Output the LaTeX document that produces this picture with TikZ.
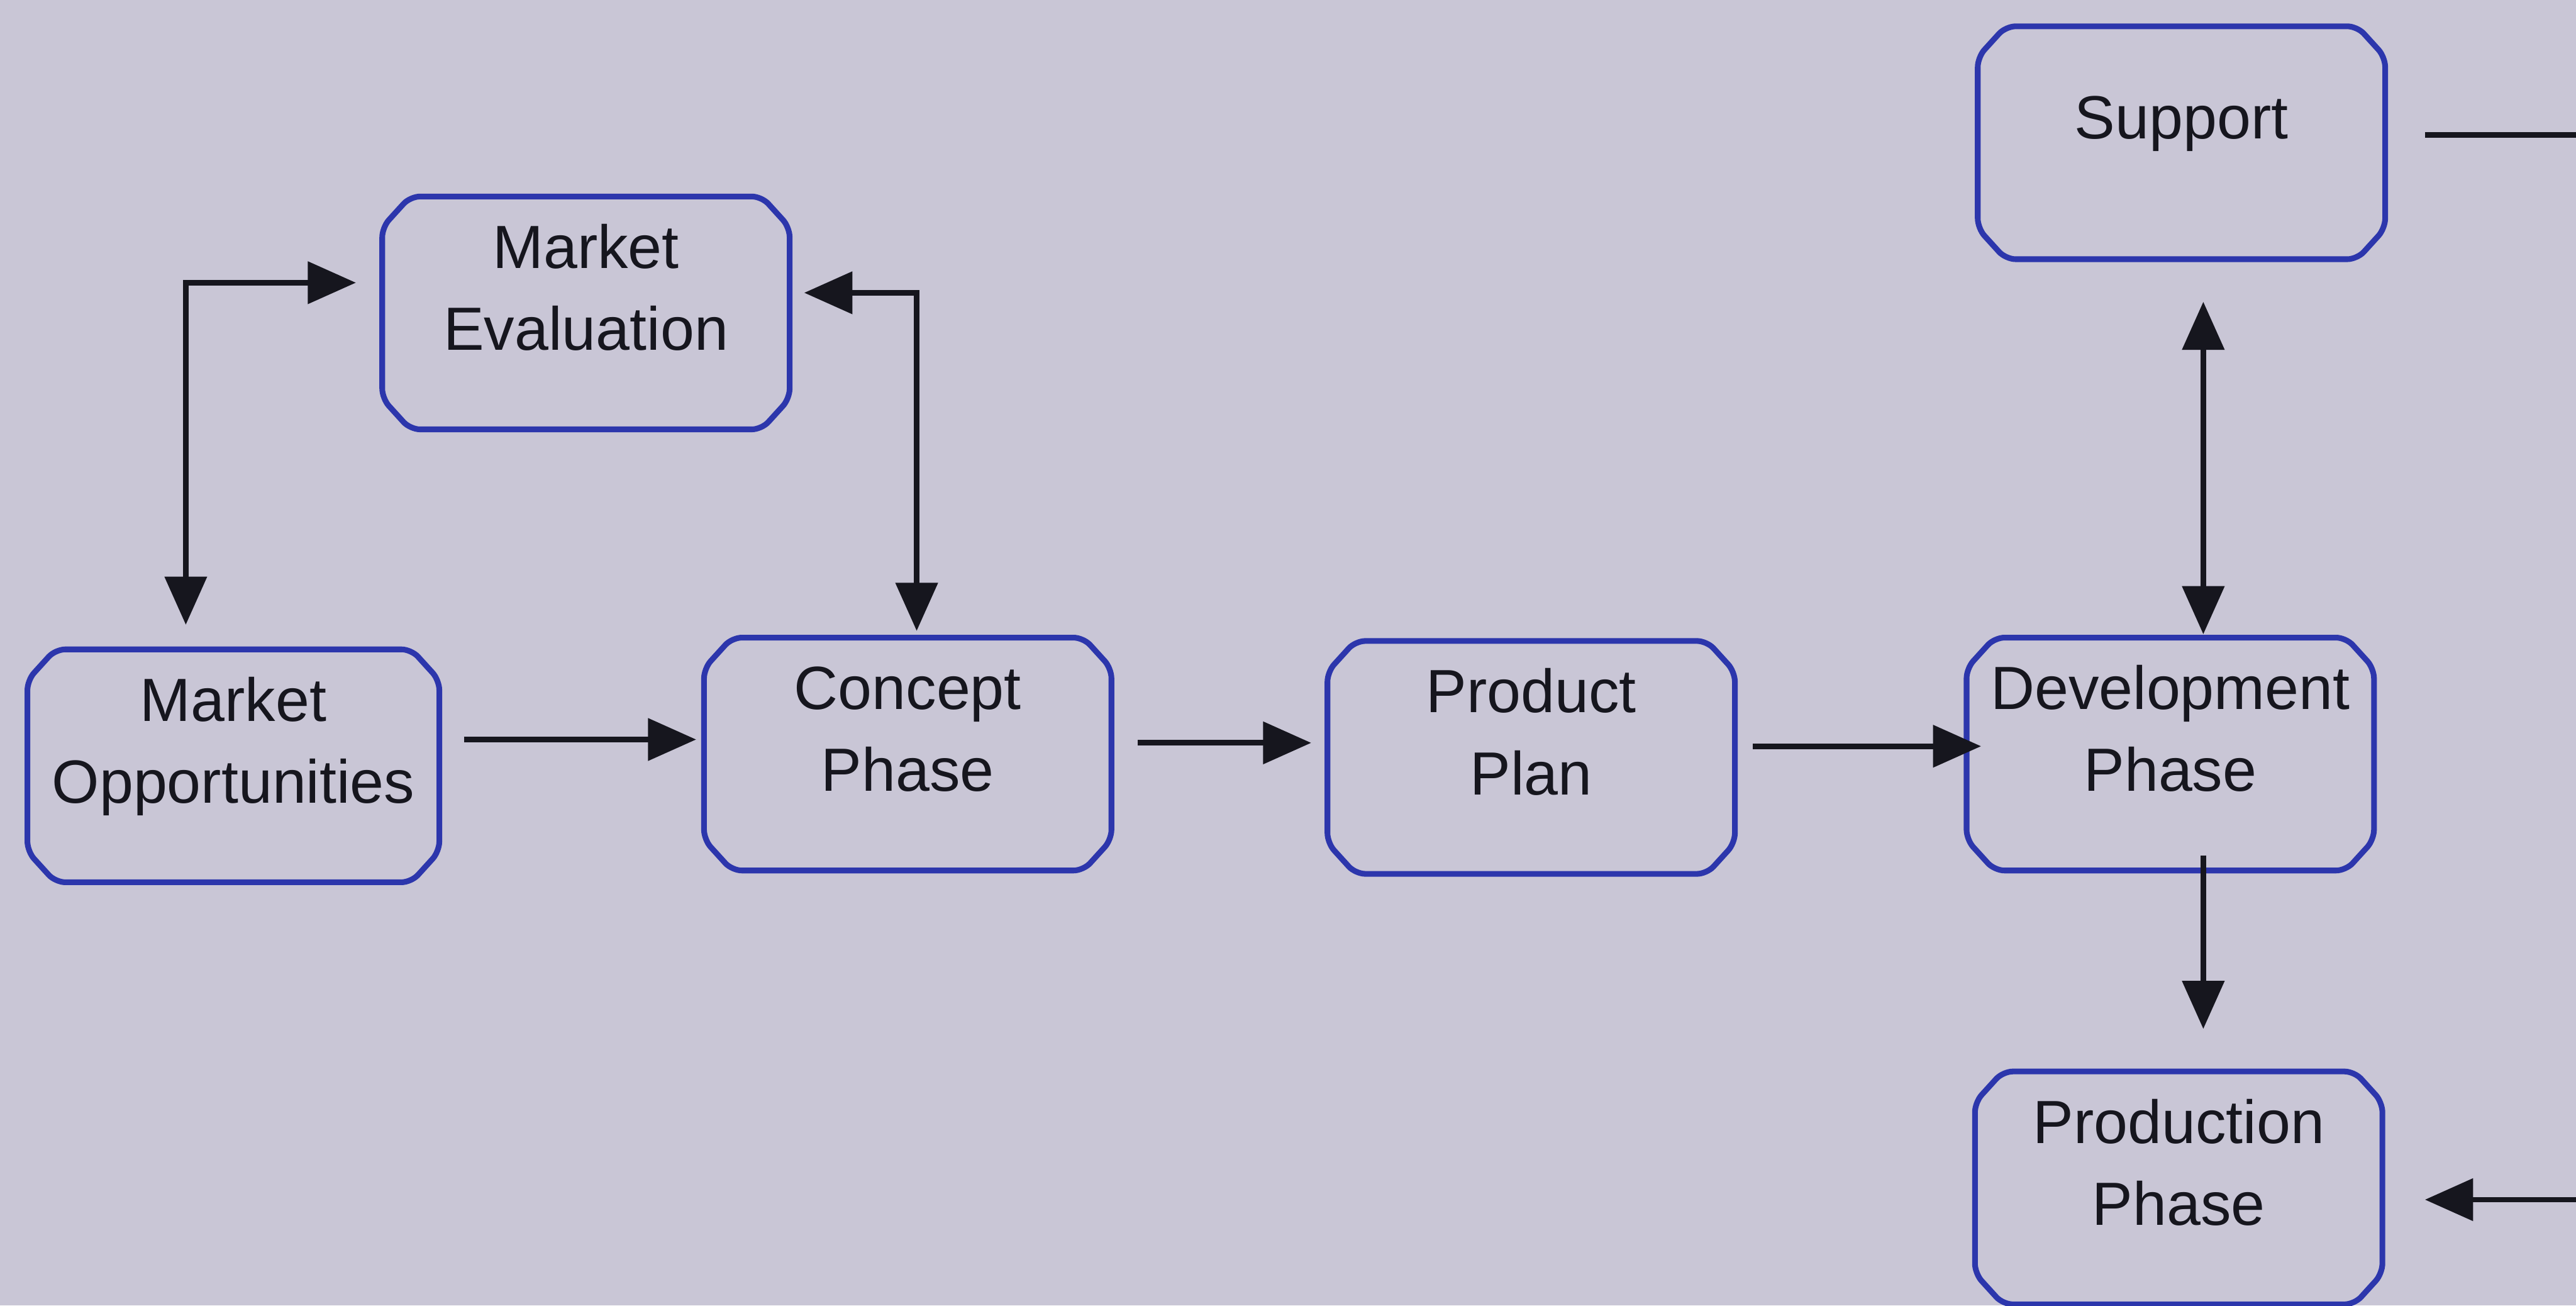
\documentclass[tikz,border=0pt]{standalone}
\usepackage{fontspec}
\setmainfont{Liberation Sans}
\usetikzlibrary{arrows.meta,calc}
\definecolor{paper}{RGB}{201,198,214}
\definecolor{boxblue}{RGB}{44,54,172}
\definecolor{ink}{RGB}{22,22,30}

% outline with cut corners around a named node
\newcommand\cutbox[1]{%
  \draw[boxline]
    ($(#1.north west)+(0.5,0)$) -- ($(#1.north east)+(-0.5,0)$)
    -- ($(#1.north east)+(0,-0.55)$) -- ($(#1.south east)+(0,0.55)$)
    -- ($(#1.south east)+(-0.5,0)$) -- ($(#1.south west)+(0.5,0)$)
    -- ($(#1.south west)+(0,0.55)$) -- ($(#1.north west)+(0,-0.55)$)
    -- cycle;}

\begin{document}
\begin{tikzpicture}[
  box/.style={rectangle, minimum width=7.28cm, minimum height=4.16cm,
    inner sep=0pt, outer sep=0pt},
  boxline/.style={draw=boxblue, line width=2.9pt, rounded corners=5pt, line join=round},
  lbl/.style={text=ink, align=center, inner sep=0pt,
    font=\fontsize{31}{41.7}\selectfont, yshift=3.6mm},
  link/.style={draw=ink, line width=2.8pt},
  conn/.style={link, -{Triangle[length=8.6mm,width=7.4mm]}},
  conn2/.style={link, {Triangle[length=8.6mm,width=7.4mm]}-{Triangle[length=8.6mm,width=7.4mm]}},
]
% page background
\fill[paper] (0,0) rectangle (46.03,-23.32);
\useasboundingbox (0,0) rectangle (46.03,-23.32);

% process boxes
\node[box] (me) at (10.47,-5.59) {};
\node[lbl] (meT) at (me.center) {Market\strut\\Evaluation\strut};

\node[box, minimum width=7.36cm] (mo) at (4.17,-13.68) {};
\node[lbl] (moT) at (mo.center) {Market\strut\\Opportunities\strut};

\node[box] (cp) at (16.22,-13.47) {};
\node[lbl] (cpT) at (cp.center) {Concept\strut\\Phase\strut};

\node[box] (pp) at (27.36,-13.53) {};
\node[lbl] (ppT) at (pp.center) {Product\strut\\Plan\strut};

\node[box] (dp) at (38.78,-13.47) {};
\node[lbl] (dpT) at (dp.center) {Development\strut\\Phase\strut};

\node[box] (su) at (38.98,-2.55) {};
\node[lbl] (suT) at (su.center) {Support\strut};

\node[box] (pr) at (38.93,-21.22) {};
\node[lbl] (prT) at (pr.center) {Production\strut\\Phase\strut};

\cutbox{me}\cutbox{mo}\cutbox{cp}\cutbox{pp}\cutbox{dp}\cutbox{su}\cutbox{pr}

% free ends at the right margin
\coordinate (suOut) at (46.2,-2.41);
\coordinate (prIn) at (46.2,-21.43);

% main flow
\draw[conn, shorten <=4.4mm, shorten >=1.4mm]
  ([yshift=4.7mm]mo.east) -- ([yshift=4.7mm]mo.east -| cp.west);
\draw[conn, shorten <=4.7mm, shorten >=2.9mm]
  ([yshift=2mm]cp.east) -- ([yshift=2mm]cp.east -| pp.west);
\draw[conn, shorten <=3.2mm, shorten >=-2.6mm]
  ([yshift=2mm]pp.east) -- ([yshift=2mm]pp.east -| dp.west);

% market evaluation loop
\draw[conn2, shorten <=4.4mm, shorten >=4.7mm]
  ([xshift=-8.5mm]mo.north) |- ([yshift=5.4mm]me.west);
\draw[conn2, shorten <=2.6mm, shorten >=1.2mm]
  ([yshift=3.6mm]me.east) -| ([xshift=1.6mm]cp.north);

% development links
\draw[conn2, shorten <=0.6mm, shorten >=7.6mm]
  ([xshift=5.9mm]dp.north) -- ([xshift=5.9mm]dp.north |- su.south);
\draw[conn, shorten <=-2.7mm, shorten >=7.6mm]
  ([xshift=5.9mm]dp.south) -- ([xshift=5.9mm]dp.south |- pr.north);

% links leaving to the right
\draw[link, shorten <=7.1mm] ([yshift=1.4mm]su.east) -- (suOut);
\draw[conn, shorten >=7.6mm] (prIn) -- (prIn -| pr.east);
\end{tikzpicture}
\end{document}
